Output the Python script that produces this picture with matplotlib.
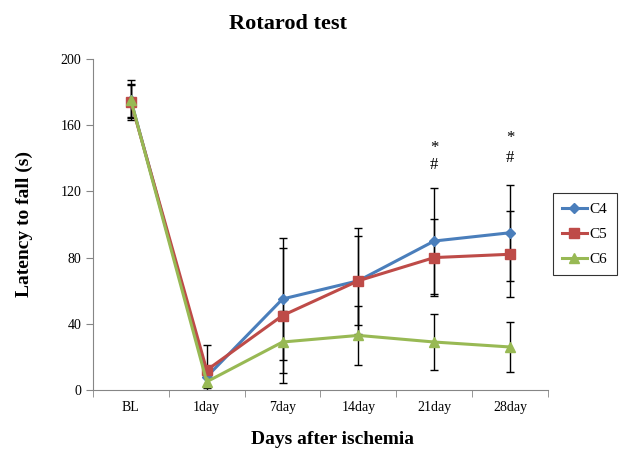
import numpy as np
import matplotlib
matplotlib.use("Agg")
import matplotlib.pyplot as plt

plt.rcParams['font.family'] = ['Liberation Serif', 'DejaVu Serif']

# data
days = ["BL", "1day", "7day", "14day", "21day", "28day"]
c4 = [175, 8, 55, 66, 90, 95]
c5 = [174, 12, 45, 66, 80, 82]
c6 = [175, 5, 29, 33, 29, 26]
c4_err = [12, 6, 37, 32, 32, 29]
c5_err = [10, 15, 41, 27, 23, 26]
c6_err = [10, 4, 19, 18, 17, 15]
marks_star = [146, 152]
marks_hash = [136, 140]

fig = plt.figure(figsize=(6.22, 4.53), dpi=100)
ax = fig.add_axes([0.1495, 0.139, 0.7315, 0.731])

x = np.arange(len(days))
series = [("C4", c4, c4_err, "#4a7ebb", "D", 5),
          ("C5", c5, c5_err, "#be4b48", "s", 7),
          ("C6", c6, c6_err, "#98b954", "^", 7)]
for name, y, e, col, mk, ms in series:
    ax.errorbar(x, y, yerr=e, fmt="none", ecolor="black", elinewidth=1,
                capsize=3, capthick=1, zorder=2)
for name, y, e, col, mk, ms in series:
    ax.plot(x, y, color=col, marker=mk, markersize=ms, linewidth=2.2,
            label=name, zorder=3)

for i, (s, h) in enumerate(zip(marks_star, marks_hash)):
    ax.text(4 + i, s, "*", ha="center", va="center", fontsize=12)
    ax.text(4 + i, h, "#", ha="center", va="center", fontsize=12)

ax.set_xlim(-0.5, 5.5)
ax.set_ylim(0, 200)
ax.set_yticks(range(0, 201, 40))
ax.set_xticks(x)
ax.set_xticklabels(days)
ax.set_xticks(np.arange(-0.5, 6, 1), minor=True)
ax.tick_params(axis="x", which="major", length=0, pad=8, labelsize=10)
ax.tick_params(axis="x", which="minor", length=5, color="#868686", direction="out")
ax.tick_params(axis="y", length=5, color="#868686", labelsize=10)
for s in ["top", "right"]:
    ax.spines[s].set_visible(False)
for s in ["left", "bottom"]:
    ax.spines[s].set_color("#868686")

ax.set_ylabel("Latency to fall (s)", fontsize=14, fontweight="bold", labelpad=20)
fig.text(0.535, 0.03, "Days after ischemia", ha="center", va="center",
         fontsize=14, fontweight="bold")
fig.text(0.463, 0.947, "Rotarod test", ha="center", va="center",
         fontsize=16, fontweight="bold")

leg = ax.legend(loc="upper left", bbox_to_anchor=(1.011, 0.595), fancybox=False,
                edgecolor="black", fontsize=11, handlelength=1.6,
                labelspacing=0.75, borderpad=0.6, handletextpad=0.2,
                borderaxespad=0)
leg.get_frame().set_linewidth(0.8)

fig.savefig("out.png", dpi=100)
